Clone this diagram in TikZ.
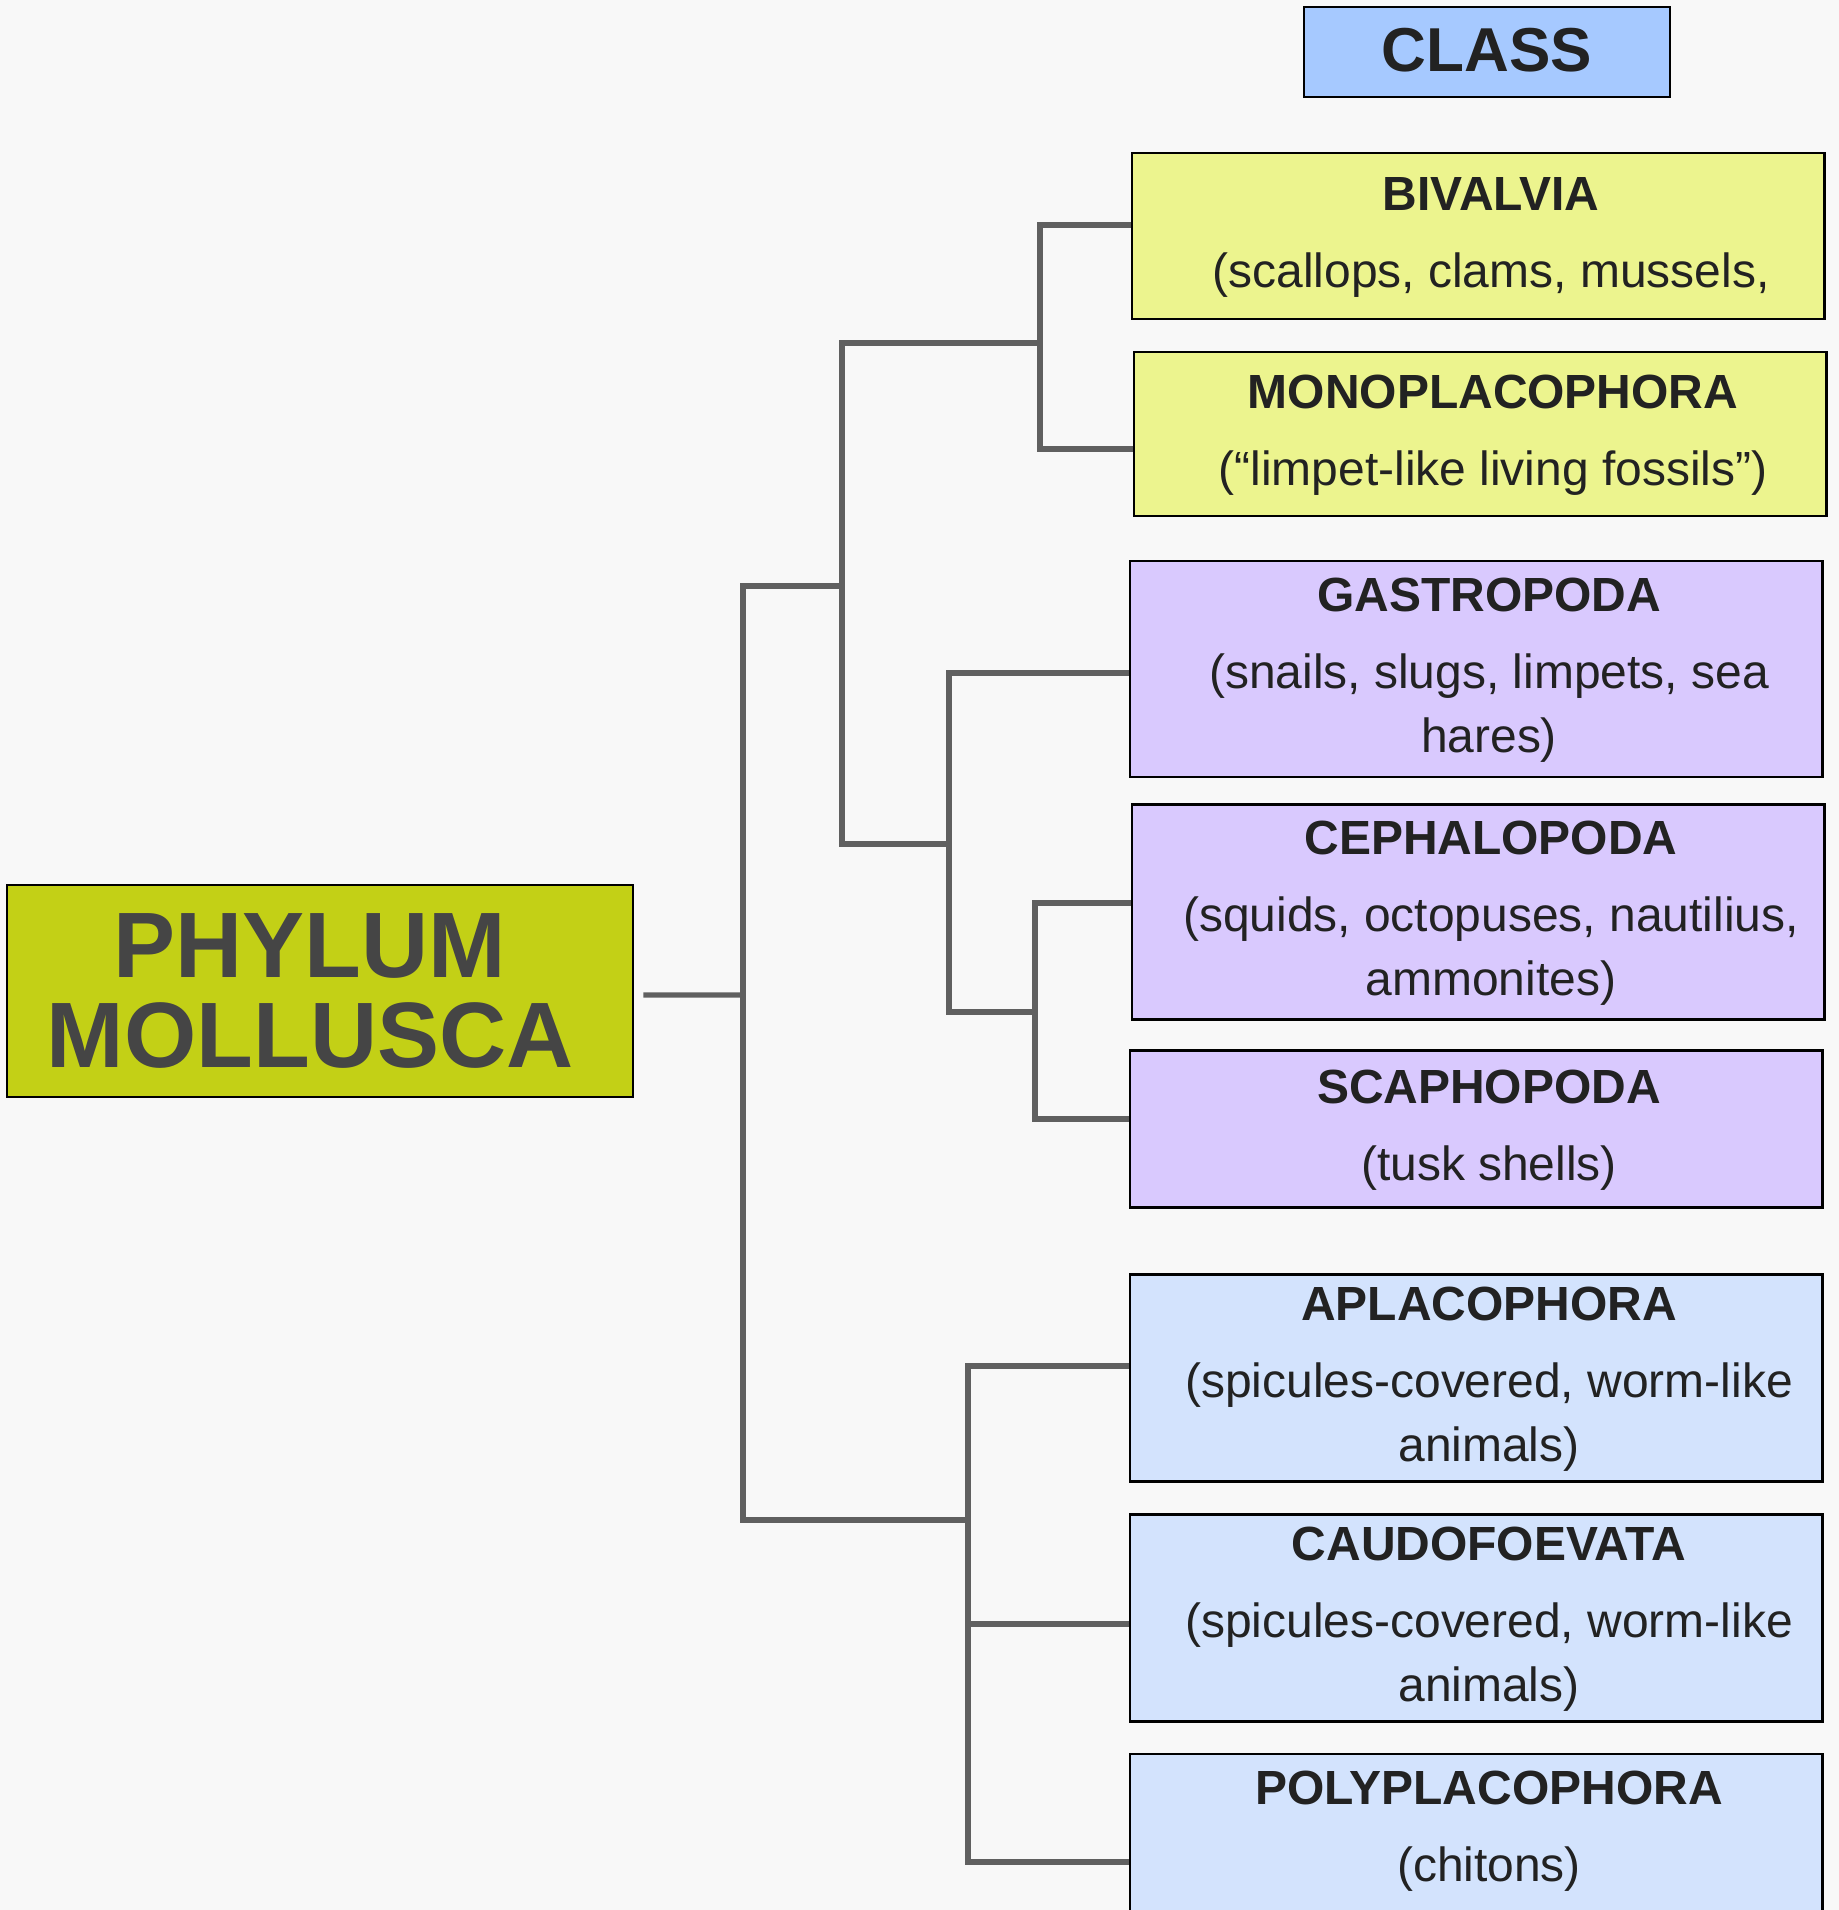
\documentclass[tikz,border=0pt]{standalone}
\usepackage{fontspec}
\setmainfont{Liberation Sans}

\definecolor{paper}{HTML}{F8F8F8}
\definecolor{linkgrey}{HTML}{606060}
\definecolor{inkdark}{HTML}{222222}
\definecolor{phylumgreen}{HTML}{C3D016}
\definecolor{headblue}{HTML}{A6C9FF}
\definecolor{yellowbox}{HTML}{ECF48E}
\definecolor{purplebox}{HTML}{D9C9FE}
\definecolor{bluebox}{HTML}{D3E3FD}

% class title over its examples, set a little right of the box centre
\newcommand{\classtext}[2]{\hspace*{0.52cm}\begin{tabular}{@{}c@{}}\textbf{#1}\\[7pt]#2\end{tabular}}

\tikzset{
  taxon/.style={draw=black, line width=1.2pt, minimum width=13.86cm, inner sep=0pt,
    text=inkdark, font=\fontsize{27.3}{36.7}\selectfont},
  link/.style={draw=linkgrey, line width=2.9pt, line join=miter},
}

\begin{document}
\begin{tikzpicture}[x=0.02cm, y=-0.02cm]
    \useasboundingbox (0,0) rectangle (1839,1910);
    \clip (0,0) rectangle (1839,1910);
    \fill[paper] (0,0) rectangle (1839,1910);

    \node[draw=black, line width=1.2pt, fill=headblue, minimum width=7.32cm, minimum height=1.80cm,
        text=inkdark, font=\bfseries\fontsize{35.3}{40}\selectfont] (classhd) at (1487,52)
        {\raisebox{0.08cm}{CLASS}};

    \node[draw=black, line width=1.2pt, fill=phylumgreen, minimum width=12.54cm, minimum height=4.24cm,
        align=center, text={rgb,255:red,69;green,69;blue,69},
        font=\bfseries\fontsize{52.9}{51.2}\selectfont] (phylum) at (320,991)
        {\hspace*{-0.4cm}PHYLUM\\\hspace*{-0.4cm}MOLLUSCA};

    % conchifera
    \node[taxon, fill=yellowbox, minimum height=3.32cm] (bivalvia) at (1478,236)
        {\classtext{BIVALVIA}{(scallops, clams, mussels,}};
    \node[taxon, fill=yellowbox, minimum height=3.28cm] (monoplaco) at (1480,434)
        {\classtext{MONOPLACOPHORA}{(“limpet-like living fossils”)}};
    \node[taxon, fill=purplebox, minimum height=4.32cm] (gastro) at (1476,669)
        {\classtext{GASTROPODA}{(snails, slugs, limpets, sea\\hares)}};
    \node[taxon, fill=purplebox, minimum height=4.30cm] (cephalo) at (1478,912)
        {\classtext{CEPHALOPODA}{(squids, octopuses, nautilius,\\ammonites)}};
    \node[taxon, fill=purplebox, minimum height=3.14cm] (scapho) at (1476,1129)
        {\classtext{SCAPHOPODA}{(tusk shells)}};

    % aculifera
    \node[taxon, fill=bluebox, minimum height=4.14cm] (aplaco) at (1476,1378)
        {\classtext{APLACOPHORA}{(spicules-covered, worm-like\\animals)}};
    \node[taxon, fill=bluebox, minimum height=4.14cm] (caudo) at (1476,1618)
        {\classtext{CAUDOFOEVATA}{(spicules-covered, worm-like\\animals)}};
    \node[taxon, fill=bluebox, minimum height=4.32cm] (polyplaco) at (1476,1862)
        {\classtext{POLYPLACOPHORA}{(chitons)\\\strut}};

    % branch points
    \coordinate (ml) at (743,995);
    \coordinate (co) at (842,586);
    \coordinate (ac) at (968,1520);
    \coordinate (bm) at (1040,343);
    \coordinate (gc) at (949,844);
    \coordinate (cs) at (1035,1012);

    \draw[link, shorten <=0.18cm] ([yshift=-0.08cm]phylum.east) -- (ml);
    \draw[link] (ml) |- (co);
    \draw[link] (ml) |- (ac);
    \draw[link] (co) |- (bm);
    \draw[link] (co) |- (gc);
    \draw[link] (bm) |- ([yshift=0.22cm]bivalvia.west);
    \draw[link] (bm) |- ([yshift=-0.30cm]monoplaco.west);
    \draw[link] (gc) |- ([yshift=-0.08cm]gastro.west);
    \draw[link] (gc) |- (cs);
    \draw[link] (cs) |- ([yshift=0.18cm]cephalo.west);
    \draw[link] (cs) |- ([yshift=0.20cm]scapho.west);
    \draw[link] (ac) |- ([yshift=0.24cm]aplaco.west);
    \draw[link] (ac) |- ([yshift=-0.12cm]caudo.west);
    \draw[link] (ac) |- (polyplaco.west);
\end{tikzpicture}
\end{document}
